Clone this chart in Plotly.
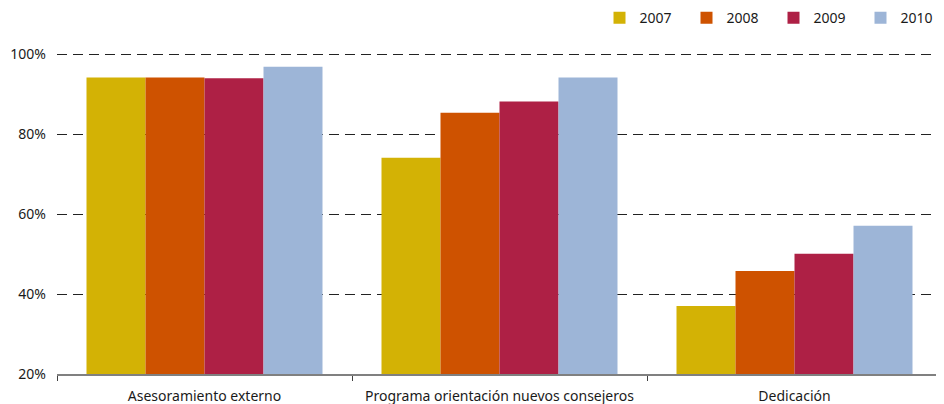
import plotly.graph_objects as go

categories = ["Asesoramiento externo", "Programa orientación nuevos consejeros", "Dedicación"]
years = ["2007", "2008", "2009", "2010"]
v2007 = [94.2, 74.1, 37.0]
v2008 = [94.2, 85.4, 45.8]
v2009 = [94.0, 88.2, 50.1]
v2010 = [96.9, 94.2, 57.1]
colors = ["#D3B205", "#CE5200", "#AE2045", "#9DB5D7"]
yticks = [20, 40, 60, 80, 100]
yticklabels = ["20%", "40%", "60%", "80%", "100%"]

series = [v2007, v2008, v2009, v2010]
FONT = "Noto Sans"

fig = go.Figure()
for name, vals, col in zip(years, series, colors):
    fig.add_trace(go.Bar(x=categories, y=vals, name=name, marker_color=col,
                         marker_line_width=0))

# page body has an 8px margin, so the figure is sized to fit the 944x404 window
fig.update_layout(
    width=936, height=396,
    margin=dict(l=49, r=2, t=44, b=30, autoexpand=False),
    paper_bgcolor="white", plot_bgcolor="white",
    barmode="group", bargap=0.2, bargroupgap=0,
    font=dict(family=FONT, size=14, color="#1a1a1a"),
    showlegend=True,
    legend=dict(orientation="h", x=0.613, xanchor="left", y=1.105, yanchor="middle",
                itemwidth=30, entrywidth=42, font=dict(size=14, family=FONT),
                traceorder="normal", bgcolor="rgba(0,0,0,0)"),
)
fig.update_xaxes(showline=True, linecolor="#808080", linewidth=1.5,
                 ticks="outside", tickson="boundaries", ticklen=5,
                 tickcolor="#404040", showgrid=False, automargin=False,
                 ticklabelstandoff=8, tickfont=dict(size=14))
fig.update_yaxes(range=[20, 100.6], tickvals=yticks, ticktext=yticklabels,
                 showline=False, showgrid=True, gridcolor="#222222",
                 griddash="10px,6px", gridwidth=1, zeroline=False, automargin=False,
                 ticks="", ticklabelstandoff=10, tickfont=dict(size=14))

fig.write_html("out.html")
